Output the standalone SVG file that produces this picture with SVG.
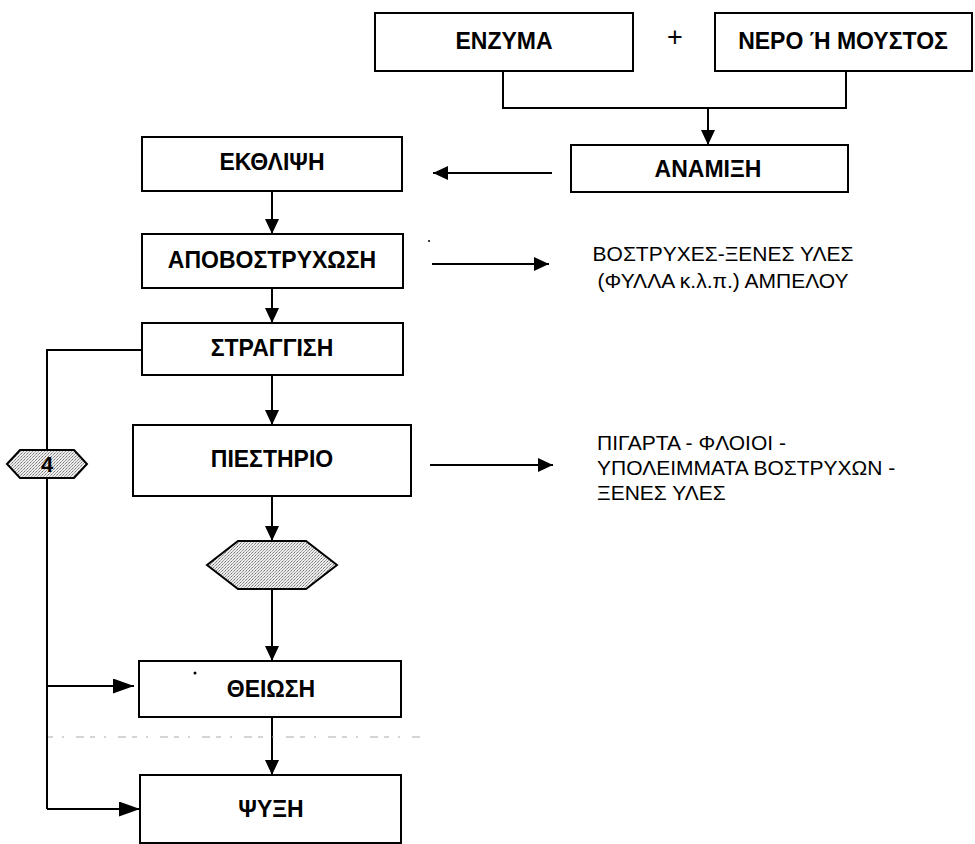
<svg xmlns="http://www.w3.org/2000/svg" width="975" height="844" viewBox="0 0 975 844">
<defs>
<marker id="arr" markerUnits="userSpaceOnUse" markerWidth="16" markerHeight="14" refX="15" refY="7" orient="auto"><path d="M0,0 L15,7 L0,14 z" fill="#000"/></marker>
<marker id="arrL" markerUnits="userSpaceOnUse" markerWidth="22" markerHeight="15" refX="21" refY="7.5" orient="auto"><path d="M0,0 L21,7.5 L0,15 z" fill="#000"/></marker>
<pattern id="dither" width="3" height="3" patternUnits="userSpaceOnUse"><rect width="3" height="3" fill="#ececec"/><rect width="1" height="1" fill="#777"/><rect x="2" y="1" width="1" height="1" fill="#999"/><rect x="1" y="2" width="1" height="1" fill="#aaa"/></pattern>
</defs>
<style>
.box{fill:#fff;stroke:#000;stroke-width:2}
.lbl{font-family:"Liberation Sans",Arial,sans-serif;font-weight:bold;font-size:23px;text-anchor:middle;fill:#000}
.txt{font-family:"Liberation Sans",Arial,sans-serif;font-size:21px;fill:#000}
.ln{fill:none;stroke:#000;stroke-width:2}
.hex{fill:url(#dither);stroke:#000;stroke-width:2}
</style>
<rect width="975" height="844" fill="#fff"/>
<g id="connectors">
<polyline class="ln" points="503,71 503,108 846,108 846,71"/>
<line class="ln" x1="708" y1="108" x2="708" y2="145" marker-end="url(#arr)"/>
<line class="ln" x1="552" y1="173" x2="433" y2="173" marker-end="url(#arr)"/>
<line class="ln" x1="272" y1="191" x2="272" y2="234" marker-end="url(#arr)"/>
<line class="ln" x1="432" y1="264" x2="549" y2="264" marker-end="url(#arr)"/>
<line class="ln" x1="272" y1="288" x2="272" y2="323" marker-end="url(#arr)"/>
<line class="ln" x1="272" y1="375" x2="272" y2="425" marker-end="url(#arr)"/>
<line class="ln" x1="430" y1="465" x2="553" y2="465" marker-end="url(#arr)"/>
<line class="ln" x1="272" y1="496" x2="272" y2="541" marker-end="url(#arr)"/>
<line class="ln" x1="272" y1="589" x2="272" y2="661" marker-end="url(#arr)"/>
<line class="ln" x1="272" y1="717" x2="272" y2="775" marker-end="url(#arr)"/>
<polyline class="ln" points="142,350 47,350 47,809"/>
<line class="ln" x1="47" y1="686" x2="134" y2="686" marker-end="url(#arrL)"/>
<line class="ln" x1="47" y1="809" x2="140" y2="809" marker-end="url(#arrL)"/>
</g>
<g id="enzyma"><rect class="box" x="375" y="13" width="258" height="58"/><text class="lbl" x="504" y="49">ΕΝΖΥΜΑ</text></g>
<g id="plus"><text class="txt" x="675" y="46" text-anchor="middle" style="font-size:27px">+</text></g>
<g id="nero"><rect class="box" x="715" y="13" width="257" height="58"/><text class="lbl" x="843" y="49">ΝΕΡΟ Ή ΜΟΥΣΤΟΣ</text></g>
<g id="anamixi"><rect class="box" x="571" y="145" width="277" height="47"/><text class="lbl" x="708" y="177">ΑΝΑΜΙΞΗ</text></g>
<g id="ekthlipsi"><rect class="box" x="142" y="137" width="260" height="54"/><text class="lbl" x="272" y="170">ΕΚΘΛΙΨΗ</text></g>
<g id="apobostryxosi"><rect class="box" x="142" y="234" width="261" height="54"/><text class="lbl" x="272" y="268">ΑΠΟΒΟΣΤΡΥΧΩΣΗ</text></g>
<g id="bostryxes"><text class="txt" x="723" y="261" text-anchor="middle">ΒΟΣΤΡΥΧΕΣ-ΞΕΝΕΣ ΥΛΕΣ</text><text class="txt" x="723" y="288" text-anchor="middle">(ΦΥΛΛΑ κ.λ.π.) ΑΜΠΕΛΟΥ</text></g>
<g id="straggisi"><rect class="box" x="142" y="323" width="261" height="52"/><text class="lbl" x="272" y="356">ΣΤΡΑΓΓΙΣΗ</text></g>
<g id="hex4"><polygon class="hex" points="7,464 20,450 74,450 87,464 74,478 20,478"/><text class="lbl" x="47" y="472" style="font-size:22px">4</text></g>
<g id="piestirio"><rect class="box" x="133" y="425" width="278" height="71"/><text class="lbl" x="272" y="467">ΠΙΕΣΤΗΡΙΟ</text></g>
<g id="pigarta"><text class="txt" x="597" y="450">ΠΙΓΑΡΤΑ - ΦΛΟΙΟΙ -</text><text class="txt" x="597" y="475">ΥΠΟΛΕΙΜΜΑΤΑ ΒΟΣΤΡΥΧΩΝ -</text><text class="txt" x="597" y="500">ΞΕΝΕΣ ΥΛΕΣ</text></g>
<g id="hexshade"><polygon class="hex" points="207,565 238,541 306,541 337,565 306,589 238,589"/></g>
<g id="theiosi"><rect class="box" x="139" y="661" width="262" height="56"/><text class="lbl" x="271" y="697">ΘΕΙΩΣΗ</text></g>
<g id="psyxi"><rect class="box" x="140" y="775" width="261" height="68"/><text class="lbl" x="271" y="817">ΨΥΞΗ</text></g>
<g id="artifacts">
<line x1="48" y1="737" x2="420" y2="737" stroke="#aaa" stroke-width="1" stroke-dasharray="5,9,2,12,8,6"/>
<circle cx="195" cy="673" r="1.5" fill="#000"/>
<circle cx="429" cy="241" r="1" fill="#000"/>
</g>
</svg>
